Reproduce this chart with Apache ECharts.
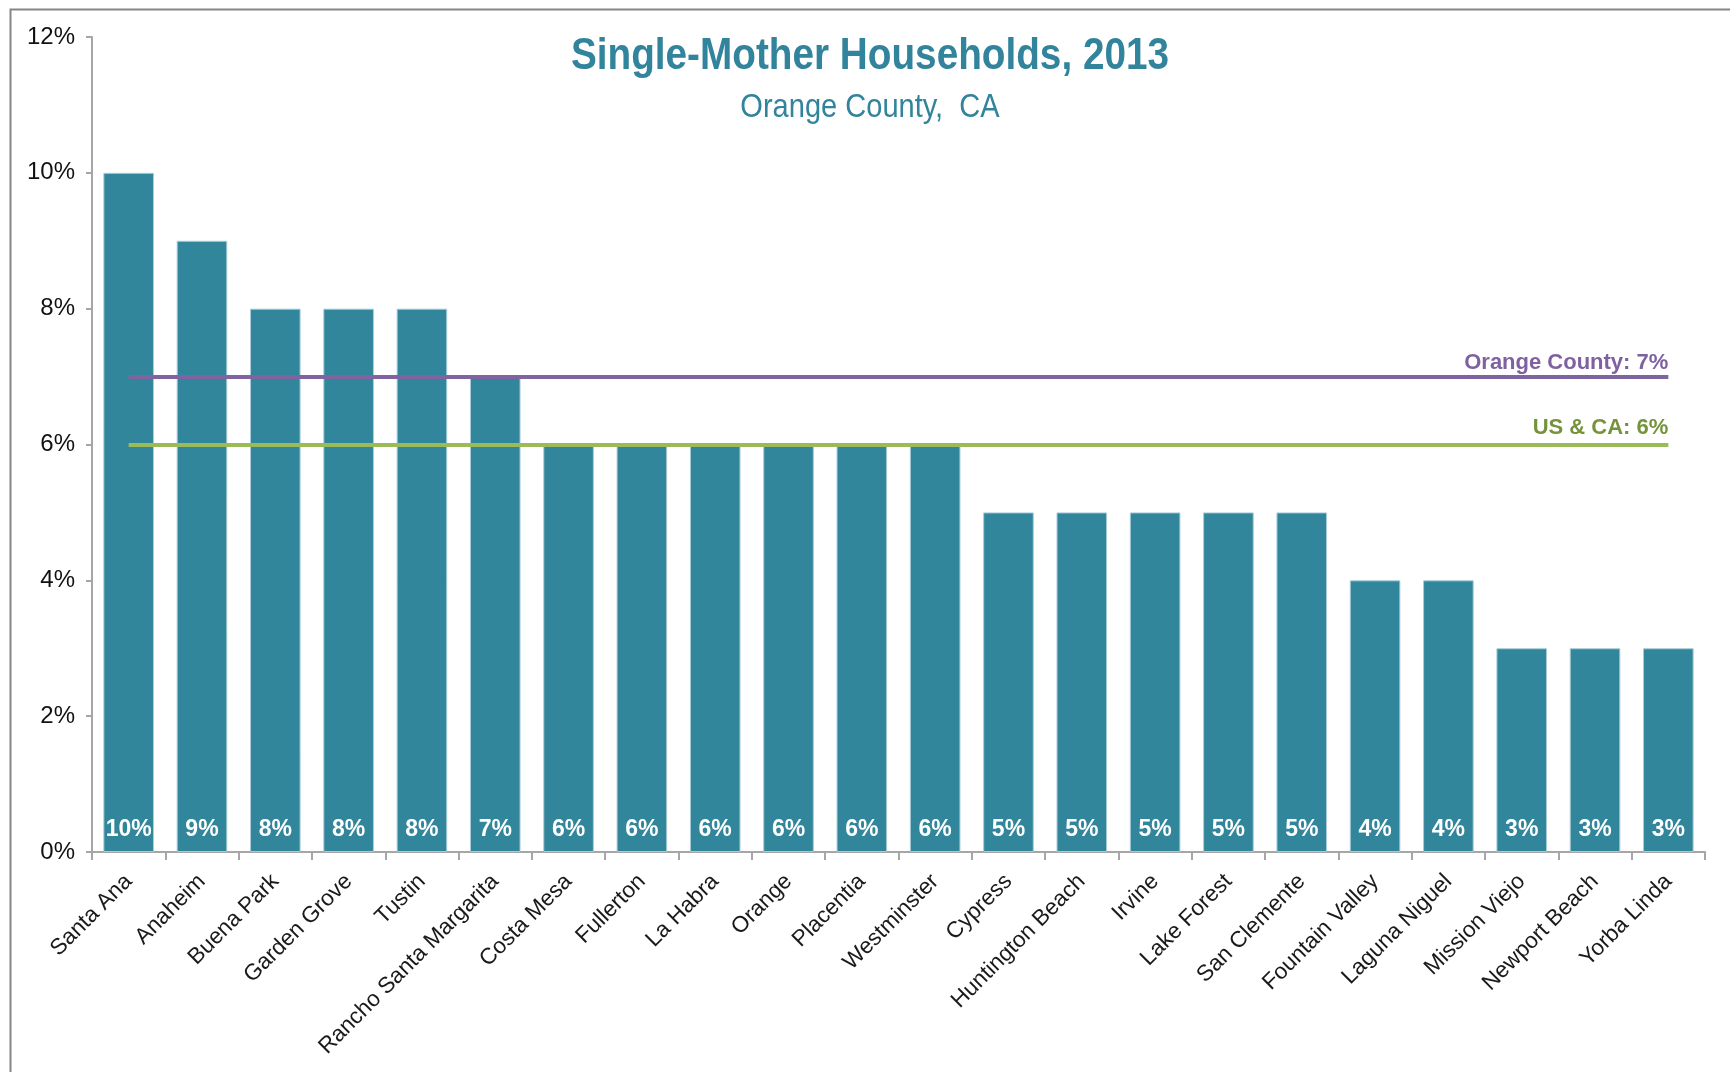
<!DOCTYPE html>
<html>
<head>
<meta charset="utf-8">
<script src="https://cdn.jsdelivr.net/npm/echarts@6/dist/echarts.min.js"></script>
<style>
html,body{margin:0;padding:0;background:#fff;}
#chart{width:1730px;height:1072px;}
</style>
</head>
<body>
<div id="chart"></div>
<script>
const cities = ["Santa Ana","Anaheim","Buena Park","Garden Grove","Tustin","Rancho Santa Margarita","Costa Mesa","Fullerton","La Habra","Orange","Placentia","Westminster","Cypress","Huntington Beach","Irvine","Lake Forest","San Clemente","Fountain Valley","Laguna Niguel","Mission Viejo","Newport Beach","Yorba Linda"];
const shares = [10,9,8,8,8,7,6,6,6,6,6,6,5,5,5,5,5,4,4,3,3,3];
const yTicks = [0,2,4,6,8,10,12];
const countyAvg = 7;
const usCaAvg = 6;
const titleText = "Single-Mother Households, 2013";
const subtitleText = "Orange County,  CA";

const sans = "'Liberation Sans',Arial,sans-serif";
const chart = echarts.init(document.getElementById('chart'));
const lastIdx = cities.length - 1;

chart.setOption({
  animation: false,
  backgroundColor: '#ffffff',
  graphic: [{
    type: 'rect', left: 8, top: 7, silent: true,
    shape: {width: 1800, height: 1200},
    style: {fill: 'none', stroke: '#868686', lineWidth: 2}
  }, {
    type: 'text', x: 870, y: 57, scaleX: 0.88, silent: true,
    style: {text: titleText, fill: '#31849b', font: "bold 44px 'Liberation Sans',Arial,sans-serif", textAlign: 'center', textVerticalAlign: 'middle'}
  }, {
    type: 'text', x: 870, y: 108, scaleX: 0.88, silent: true,
    style: {text: subtitleText, fill: '#31849b', font: "33px 'Liberation Sans',Arial,sans-serif", textAlign: 'center', textVerticalAlign: 'middle'}
  }],
  grid: {left: 92, right: 25, top: 37, bottom: 220, containLabel: false},
  xAxis: {
    type: 'category',
    data: cities,
    axisLine: {lineStyle: {color: '#a6a6a6', width: 2}},
    axisTick: {show: true, length: 8, lineStyle: {color: '#a6a6a6', width: 2}},
    axisLabel: {rotate: 45, margin: 26, fontFamily: sans, fontSize: 22.5, color: '#1a1a1a', interval: 0}
  },
  yAxis: {
    type: 'value',
    min: yTicks[0], max: yTicks[yTicks.length - 1], interval: yTicks[1] - yTicks[0],
    splitLine: {show: false},
    axisLine: {show: true, lineStyle: {color: '#a6a6a6', width: 2}},
    axisTick: {show: true, length: 6, lineStyle: {color: '#a6a6a6', width: 2}},
    axisLabel: {formatter: '{value}%', margin: 17, fontFamily: sans, fontSize: 24, color: '#111111', verticalAlign: 'middle', padding: [4, 0, 0, 0]}
  },
  series: [{
    type: 'bar',
    data: shares,
    barCategoryGap: '31%',
    itemStyle: {color: '#31869b', borderColor: '#a8ccd7', borderWidth: 1},
    label: {
      show: true, position: 'insideBottom', distance: 11,
      formatter: '{c}%', color: '#ffffff',
      fontFamily: sans, fontWeight: 'bold', fontSize: 23
    },
    markLine: {
      silent: true, symbol: 'none',
      data: [
        [{coord: [0, countyAvg], lineStyle: {color: '#8064a2', width: 4, type: 'solid'},
          label: {show: true, position: 'insideEndTop', formatter: 'Orange County: ' + countyAvg + '%', color: '#7f61a1', fontFamily: sans, fontWeight: 'bold', fontSize: 22, distance: [0, 3]}},
         {coord: [lastIdx, countyAvg]}],
        [{coord: [0, usCaAvg], lineStyle: {color: '#9bbb59', width: 4, type: 'solid'},
          label: {show: true, position: 'insideEndTop', formatter: 'US & CA: ' + usCaAvg + '%', color: '#76933c', fontFamily: sans, fontWeight: 'bold', fontSize: 22, distance: [0, 6]}},
         {coord: [lastIdx, usCaAvg]}]
      ]
    }
  }]
});
</script>
</body>
</html>
